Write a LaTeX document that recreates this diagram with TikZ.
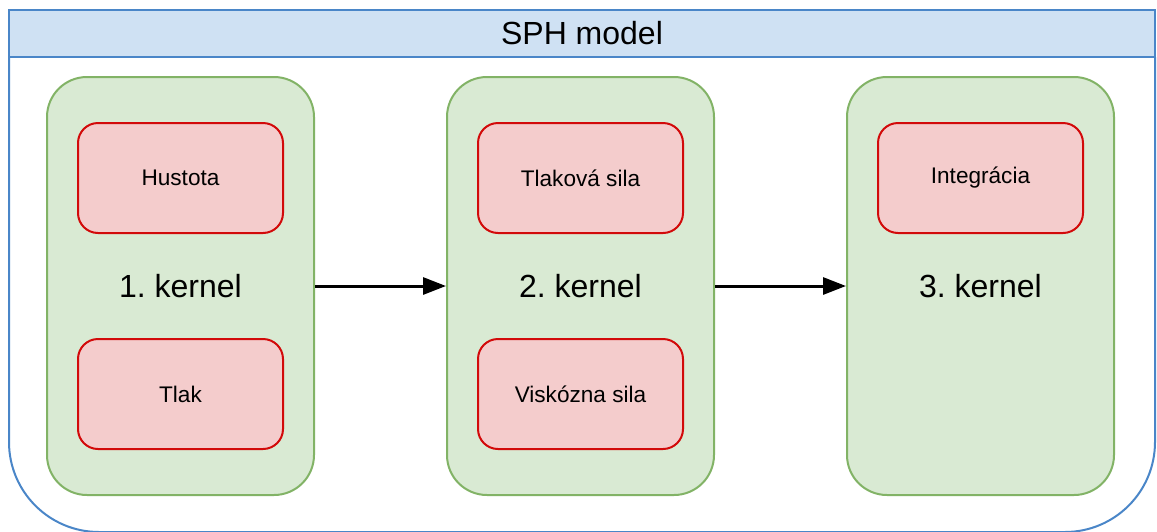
\documentclass[tikz,border=0pt]{standalone}
\usepackage{fontspec}
\setmainfont{Liberation Sans}
\usetikzlibrary{arrows.meta}
\frenchspacing
\definecolor{hdrfill}{RGB}{207,225,243}
\definecolor{hdrline}{RGB}{74,134,200}
\definecolor{grfill}{RGB}{217,234,211}
\definecolor{grline}{RGB}{130,179,102}
\definecolor{rdfill}{RGB}{244,204,204}
\definecolor{rdline}{RGB}{210,10,10}
\begin{document}
\begin{tikzpicture}[x=1pt,y=-1pt,
  header/.style={draw=hdrline, fill=hdrfill, line width=2pt, minimum width=1146pt, minimum height=47pt, inner sep=0pt, font=\fontsize{32}{38}\selectfont},
  kernelbox/.style={draw=grline, fill=grfill, line width=2pt, rounded corners=40pt, minimum width=267pt, minimum height=418pt, inner sep=0pt, font=\fontsize{32}{38}\selectfont},
  taskbox/.style={draw=rdline, fill=rdfill, line width=2pt, rounded corners=20pt, minimum width=205pt, minimum height=110pt, inner sep=0pt, font=\fontsize{22.6}{27}\selectfont},
  flow/.style={-{Triangle[length=23pt,width=17pt]}, line width=3pt}]
\useasboundingbox (0,0) rectangle (1157,531);
% outer container body
\draw[hdrline, line width=2pt, rounded corners=90pt] (9,57) -- (9,532) -- (1155,532) -- (1155,57);
\node[header] (hdr) at (582,33.5) {SPH model};
% kernels
\node[kernelbox] (k1) at (180.5,286) {1. kernel};
\node[kernelbox] (k2) at (580.5,286) {2. kernel};
\node[kernelbox] (k3) at (980.5,286) {3. kernel};
% tasks
\node[taskbox] (t1) at (180.5,178) {Hustota};
\node[taskbox] (t2) at (180.5,394) {Tlak};
\node[taskbox] (t3) at (580.5,178) {Tlaková sila};
\node[taskbox] (t4) at (580.5,394) {Viskózna sila};
\node[taskbox] (t5) at (980.5,178) {Integrácia};
% connectors
\draw[flow] (k1.east) -- (k2.west);
\draw[flow] (k2.east) -- (k3.west);
\end{tikzpicture}
\end{document}
